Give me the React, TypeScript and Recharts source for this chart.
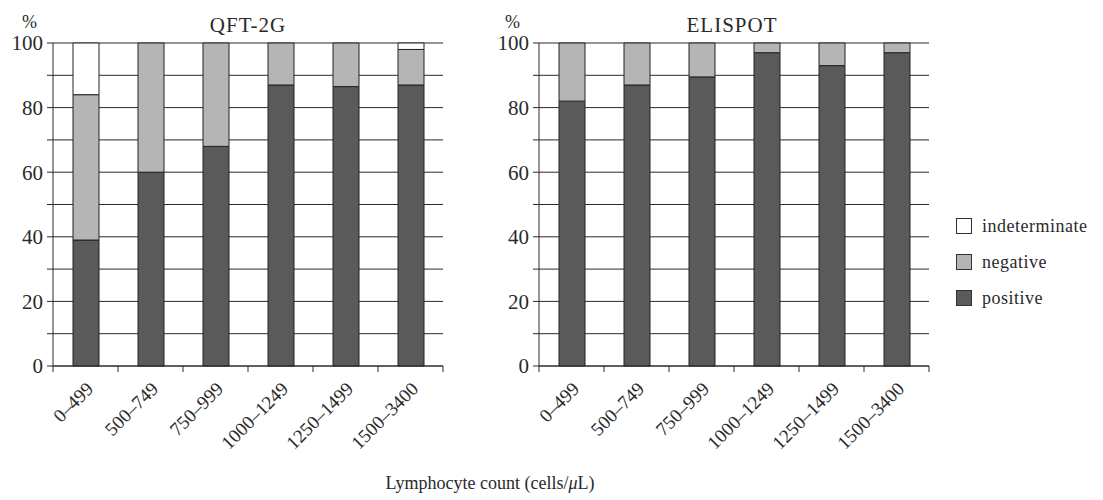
import React from 'react';
import { BarChart, Bar, XAxis, YAxis, CartesianGrid } from 'recharts';

const categories = ['0–499', '500–749', '750–999', '1000–1249', '1250–1499', '1500–3400'];

const qftPositive = [39, 60, 68, 87, 86.5, 87];
const qftNegative = [45, 40, 32, 13, 13.5, 11];
const qftIndeterminate = [16, 0, 0, 0, 0, 2];

const elispotPositive = [82, 87, 89.5, 97, 93, 97];
const elispotNegative = [18, 13, 10.5, 3, 7, 3];
const elispotIndeterminate = [0, 0, 0, 0, 0, 0];

const yTicks = [0, 10, 20, 30, 40, 50, 60, 70, 80, 90, 100];

const legendItems = [
  { key: 'indeterminate', label: 'indeterminate' },
  { key: 'negative', label: 'negative' },
  { key: 'positive', label: 'positive' },
];

const FONT = '"Liberation Serif", "DejaVu Serif", serif';
const INK = '#2a2a2a';
const COLORS: Record<string, string> = {
  positive: '#5a5a5a',
  negative: '#b5b5b5',
  indeterminate: '#ffffff',
};

const buildRows = (pos: number[], neg: number[], ind: number[]) =>
  categories.map((name, i) => ({
    name,
    positive: pos[i],
    negative: neg[i],
    indeterminate: ind[i],
  }));

const qftData = buildRows(qftPositive, qftNegative, qftIndeterminate);
const elispotData = buildRows(elispotPositive, elispotNegative, elispotIndeterminate);

const XTick = (props: any) => {
  const { x, y, payload, index, visibleTicksCount } = props;
  const half = payload && payload.offset ? payload.offset : 32.5;
  const tx = x + 9;
  const ty = y + 24;
  return (
    <g>
      <line x1={x - half} x2={x - half} y1={y} y2={y + 6} stroke={INK} />
      {index === visibleTicksCount - 1 && (
        <line x1={x + half} x2={x + half} y1={y} y2={y + 6} stroke={INK} />
      )}
      <text
        x={tx}
        y={ty}
        transform={`rotate(-45 ${tx} ${ty})`}
        textAnchor="end"
        fontFamily={FONT}
        fontSize={19}
        fill={INK}
      >
        {payload.value}
      </text>
    </g>
  );
};

const Panel = ({ data, width }: { data: any[]; width: number }) => (
  <BarChart
    width={width}
    height={460}
    data={data}
    margin={{ top: 43, right: width - 443, left: 0, bottom: 0 }}
  >
    <CartesianGrid vertical={false} stroke={INK} strokeWidth={1} />
    <XAxis
      dataKey="name"
      height={94}
      interval={0}
      tickLine={false}
      tickSize={0}
      tickMargin={0}
      axisLine={{ stroke: INK }}
      tick={<XTick />}
    />
    <YAxis
      width={53}
      domain={[0, 100]}
      ticks={yTicks}
      interval={0}
      tickSize={6}
      tickMargin={4}
      axisLine={{ stroke: INK }}
      tickLine={{ stroke: INK }}
      tickFormatter={(v: number) => (v % 20 === 0 ? String(v) : '')}
      tick={{ fontSize: 21, fontFamily: FONT, fill: INK }}
    />
    <Bar dataKey="positive" stackId="s" barSize={26} fill={COLORS.positive} stroke="#222" strokeWidth={1} isAnimationActive={false} />
    <Bar dataKey="negative" stackId="s" barSize={26} fill={COLORS.negative} stroke="#222" strokeWidth={1} isAnimationActive={false} />
    <Bar dataKey="indeterminate" stackId="s" barSize={26} fill={COLORS.indeterminate} stroke="#222" strokeWidth={1} isAnimationActive={false} />
  </BarChart>
);

const textStyle: React.CSSProperties = {
  position: 'absolute',
  fontFamily: FONT,
  color: INK,
  whiteSpace: 'nowrap',
  lineHeight: 1,
};

export default function App() {
  return (
    <div style={{ position: 'absolute', left: 0, top: 0, width: 1103, height: 500, background: '#fff' }}>
      <div style={{ position: 'absolute', left: 0, top: 0 }}>
        <Panel data={qftData} width={460} />
      </div>
      <div style={{ position: 'absolute', left: 486, top: 0 }}>
        <Panel data={elispotData} width={460} />
      </div>

      <div style={{ ...textStyle, left: 22, top: 13, fontSize: 18 }}>%</div>
      <div style={{ ...textStyle, left: 505, top: 13, fontSize: 18 }}>%</div>
      <div style={{ ...textStyle, left: 148, width: 200, top: 15, fontSize: 21, textAlign: 'center', letterSpacing: 1 }}>QFT-2G</div>
      <div style={{ ...textStyle, left: 632, width: 200, top: 15, fontSize: 21, textAlign: 'center', letterSpacing: 1 }}>ELISPOT</div>

      <div style={{ ...textStyle, left: 290, width: 400, top: 474, fontSize: 18, textAlign: 'center' }}>
        Lymphocyte count (cells/<i>μ</i>L)
      </div>

      <div style={{ position: 'absolute', left: 956, top: 208 }}>
        {legendItems.map((item) => (
          <div key={item.key} style={{ display: 'flex', alignItems: 'center', height: 36 }}>
            <div
              style={{
                width: 14,
                height: 14,
                border: '1px solid #333',
                background: COLORS[item.key],
                marginRight: 10,
              }}
            />
            <span style={{ fontFamily: FONT, fontSize: 18, color: INK, letterSpacing: 0.5 }}>{item.label}</span>
          </div>
        ))}
      </div>
    </div>
  );
}
